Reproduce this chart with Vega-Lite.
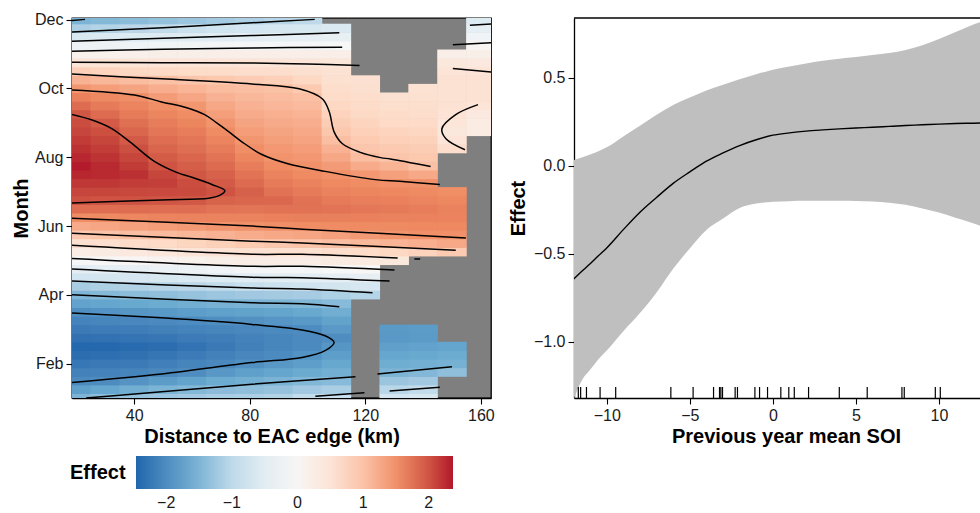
{
"$schema": "https://vega.github.io/schema/vega-lite/v6.json",
"padding": {"left": 10, "top": 11, "right": 0, "bottom": 0},
"bounds": "flush",
"spacing": 83,
"config": {
  "font": "Liberation Sans",
  "axis": {"grid": false, "domainColor": "black", "domainWidth": 1.3, "tickColor": "black", "tickWidth": 1.1, "tickSize": 6, "labelFontSize": 16, "labelColor": "#1a1a1a", "labelPadding": 3, "labelFlush": false, "titleFontSize": 20, "titleFontWeight": "bold", "titleColor": "black"}
},
"resolve": {"scale": {"color": "independent"}, "legend": {"color": "independent"}},
"datasets": {
"heat": [
{"d":20,"m":1,"e":-1.5},{"d":20,"m":1.25,"e":-1.77},{"d":20,"m":1.5,"e":-2.02},{"d":20,"m":1.75,"e":-2.13},{"d":20,"m":2,"e":-2.25},{"d":20,"m":2.25,"e":-2.37},{"d":20,"m":2.5,"e":-2.44},{"d":20,"m":2.75,"e":-2.32},{"d":20,"m":3,"e":-2.21},{"d":20,"m":3.25,"e":-2.1},{"d":20,"m":3.5,"e":-1.97},{"d":20,"m":3.75,"e":-1.73},{"d":20,"m":4,"e":-1.49},{"d":20,"m":4.25,"e":-1.18},{"d":20,"m":4.5,"e":-0.85},{"d":20,"m":4.75,"e":-0.48},{"d":20,"m":5,"e":-0.09},{"d":20,"m":5.25,"e":0.25},{"d":20,"m":5.5,"e":0.59},{"d":20,"m":5.75,"e":0.94},{"d":20,"m":6,"e":1.25},{"d":20,"m":6.25,"e":1.54},{"d":20,"m":6.5,"e":1.8},{"d":20,"m":6.75,"e":2.02},{"d":20,"m":7,"e":2.11},{"d":20,"m":7.25,"e":2.2},{"d":20,"m":7.5,"e":2.3},{"d":20,"m":7.75,"e":2.36},{"d":20,"m":8,"e":2.3},{"d":20,"m":8.25,"e":2.24},{"d":20,"m":8.5,"e":2.18},{"d":20,"m":8.75,"e":2.11},{"d":20,"m":9,"e":2.05},{"d":20,"m":9.25,"e":1.98},{"d":20,"m":9.5,"e":1.81},{"d":20,"m":9.75,"e":1.64},{"d":20,"m":10,"e":1.45},{"d":20,"m":10.25,"e":1.17},{"d":20,"m":10.5,"e":0.87},{"d":20,"m":10.75,"e":0.5},{"d":20,"m":11,"e":0.13},{"d":20,"m":11.25,"e":-0.29},{"d":20,"m":11.5,"e":-0.73},{"d":20,"m":11.75,"e":-1.15},{"d":20,"m":12,"e":-1.5},
{"d":30,"m":1,"e":-1.38},{"d":30,"m":1.25,"e":-1.68},{"d":30,"m":1.5,"e":-1.99},{"d":30,"m":1.75,"e":-2.11},{"d":30,"m":2,"e":-2.23},{"d":30,"m":2.25,"e":-2.35},{"d":30,"m":2.5,"e":-2.43},{"d":30,"m":2.75,"e":-2.31},{"d":30,"m":3,"e":-2.19},{"d":30,"m":3.25,"e":-2.08},{"d":30,"m":3.5,"e":-1.92},{"d":30,"m":3.75,"e":-1.69},{"d":30,"m":4,"e":-1.44},{"d":30,"m":4.25,"e":-1.13},{"d":30,"m":4.5,"e":-0.8},{"d":30,"m":4.75,"e":-0.44},{"d":30,"m":5,"e":-0.03},{"d":30,"m":5.25,"e":0.3},{"d":30,"m":5.5,"e":0.64},{"d":30,"m":5.75,"e":1.0},{"d":30,"m":6,"e":1.29},{"d":30,"m":6.25,"e":1.56},{"d":30,"m":6.5,"e":1.8},{"d":30,"m":6.75,"e":2.01},{"d":30,"m":7,"e":2.1},{"d":30,"m":7.25,"e":2.2},{"d":30,"m":7.5,"e":2.29},{"d":30,"m":7.75,"e":2.29},{"d":30,"m":8,"e":2.23},{"d":30,"m":8.25,"e":2.17},{"d":30,"m":8.5,"e":2.1},{"d":30,"m":8.75,"e":2.04},{"d":30,"m":9,"e":1.95},{"d":30,"m":9.25,"e":1.82},{"d":30,"m":9.5,"e":1.69},{"d":30,"m":9.75,"e":1.57},{"d":30,"m":10,"e":1.38},{"d":30,"m":10.25,"e":1.12},{"d":30,"m":10.5,"e":0.83},{"d":30,"m":10.75,"e":0.5},{"d":30,"m":11,"e":0.14},{"d":30,"m":11.25,"e":-0.25},{"d":30,"m":11.5,"e":-0.67},{"d":30,"m":11.75,"e":-1.09},{"d":30,"m":12,"e":-1.45},
{"d":40,"m":1,"e":-1.32},{"d":40,"m":1.25,"e":-1.59},{"d":40,"m":1.5,"e":-1.91},{"d":40,"m":1.75,"e":-2.09},{"d":40,"m":2,"e":-2.21},{"d":40,"m":2.25,"e":-2.32},{"d":40,"m":2.5,"e":-2.4},{"d":40,"m":2.75,"e":-2.28},{"d":40,"m":3,"e":-2.17},{"d":40,"m":3.25,"e":-2.05},{"d":40,"m":3.5,"e":-1.88},{"d":40,"m":3.75,"e":-1.65},{"d":40,"m":4,"e":-1.4},{"d":40,"m":4.25,"e":-1.1},{"d":40,"m":4.5,"e":-0.75},{"d":40,"m":4.75,"e":-0.38},{"d":40,"m":5,"e":0.01},{"d":40,"m":5.25,"e":0.36},{"d":40,"m":5.5,"e":0.71},{"d":40,"m":5.75,"e":1.05},{"d":40,"m":6,"e":1.34},{"d":40,"m":6.25,"e":1.59},{"d":40,"m":6.5,"e":1.81},{"d":40,"m":6.75,"e":2.01},{"d":40,"m":7,"e":2.09},{"d":40,"m":7.25,"e":2.17},{"d":40,"m":7.5,"e":2.25},{"d":40,"m":7.75,"e":2.18},{"d":40,"m":8,"e":2.1},{"d":40,"m":8.25,"e":2.03},{"d":40,"m":8.5,"e":1.95},{"d":40,"m":8.75,"e":1.86},{"d":40,"m":9,"e":1.78},{"d":40,"m":9.25,"e":1.69},{"d":40,"m":9.5,"e":1.61},{"d":40,"m":9.75,"e":1.52},{"d":40,"m":10,"e":1.31},{"d":40,"m":10.25,"e":1.07},{"d":40,"m":10.5,"e":0.79},{"d":40,"m":10.75,"e":0.5},{"d":40,"m":11,"e":0.16},{"d":40,"m":11.25,"e":-0.21},{"d":40,"m":11.5,"e":-0.62},{"d":40,"m":11.75,"e":-1.03},{"d":40,"m":12,"e":-1.4},
{"d":50,"m":1,"e":-1.27},{"d":50,"m":1.25,"e":-1.51},{"d":50,"m":1.5,"e":-1.81},{"d":50,"m":1.75,"e":-2.04},{"d":50,"m":2,"e":-2.15},{"d":50,"m":2.25,"e":-2.26},{"d":50,"m":2.5,"e":-2.37},{"d":50,"m":2.75,"e":-2.26},{"d":50,"m":3,"e":-2.14},{"d":50,"m":3.25,"e":-2.03},{"d":50,"m":3.5,"e":-1.84},{"d":50,"m":3.75,"e":-1.62},{"d":50,"m":4,"e":-1.36},{"d":50,"m":4.25,"e":-1.06},{"d":50,"m":4.5,"e":-0.7},{"d":50,"m":4.75,"e":-0.31},{"d":50,"m":5,"e":0.07},{"d":50,"m":5.25,"e":0.42},{"d":50,"m":5.5,"e":0.76},{"d":50,"m":5.75,"e":1.09},{"d":50,"m":6,"e":1.38},{"d":50,"m":6.25,"e":1.61},{"d":50,"m":6.5,"e":1.8},{"d":50,"m":6.75,"e":1.99},{"d":50,"m":7,"e":2.08},{"d":50,"m":7.25,"e":2.15},{"d":50,"m":7.5,"e":2.1},{"d":50,"m":7.75,"e":2.01},{"d":50,"m":8,"e":1.94},{"d":50,"m":8.25,"e":1.87},{"d":50,"m":8.5,"e":1.8},{"d":50,"m":8.75,"e":1.73},{"d":50,"m":9,"e":1.67},{"d":50,"m":9.25,"e":1.6},{"d":50,"m":9.5,"e":1.53},{"d":50,"m":9.75,"e":1.39},{"d":50,"m":10,"e":1.21},{"d":50,"m":10.25,"e":1.02},{"d":50,"m":10.5,"e":0.77},{"d":50,"m":10.75,"e":0.5},{"d":50,"m":11,"e":0.18},{"d":50,"m":11.25,"e":-0.17},{"d":50,"m":11.5,"e":-0.56},{"d":50,"m":11.75,"e":-0.97},{"d":50,"m":12,"e":-1.33},
{"d":60,"m":1,"e":-1.22},{"d":60,"m":1.25,"e":-1.45},{"d":60,"m":1.5,"e":-1.71},{"d":60,"m":1.75,"e":-1.98},{"d":60,"m":2,"e":-2.09},{"d":60,"m":2.25,"e":-2.2},{"d":60,"m":2.5,"e":-2.3},{"d":60,"m":2.75,"e":-2.2},{"d":60,"m":3,"e":-2.1},{"d":60,"m":3.25,"e":-2.0},{"d":60,"m":3.5,"e":-1.79},{"d":60,"m":3.75,"e":-1.58},{"d":60,"m":4,"e":-1.31},{"d":60,"m":4.25,"e":-1.02},{"d":60,"m":4.5,"e":-0.64},{"d":60,"m":4.75,"e":-0.25},{"d":60,"m":5,"e":0.13},{"d":60,"m":5.25,"e":0.47},{"d":60,"m":5.5,"e":0.81},{"d":60,"m":5.75,"e":1.13},{"d":60,"m":6,"e":1.42},{"d":60,"m":6.25,"e":1.62},{"d":60,"m":6.5,"e":1.8},{"d":60,"m":6.75,"e":1.97},{"d":60,"m":7,"e":2.07},{"d":60,"m":7.25,"e":2.05},{"d":60,"m":7.5,"e":1.98},{"d":60,"m":7.75,"e":1.92},{"d":60,"m":8,"e":1.85},{"d":60,"m":8.25,"e":1.79},{"d":60,"m":8.5,"e":1.73},{"d":60,"m":8.75,"e":1.67},{"d":60,"m":9,"e":1.6},{"d":60,"m":9.25,"e":1.54},{"d":60,"m":9.5,"e":1.45},{"d":60,"m":9.75,"e":1.29},{"d":60,"m":10,"e":1.14},{"d":60,"m":10.25,"e":0.98},{"d":60,"m":10.5,"e":0.74},{"d":60,"m":10.75,"e":0.5},{"d":60,"m":11,"e":0.19},{"d":60,"m":11.25,"e":-0.15},{"d":60,"m":11.5,"e":-0.53},{"d":60,"m":11.75,"e":-0.9},{"d":60,"m":12,"e":-1.27},
{"d":70,"m":1,"e":-1.17},{"d":70,"m":1.25,"e":-1.39},{"d":70,"m":1.5,"e":-1.62},{"d":70,"m":1.75,"e":-1.86},{"d":70,"m":2,"e":-2.04},{"d":70,"m":2.25,"e":-2.13},{"d":70,"m":2.5,"e":-2.22},{"d":70,"m":2.75,"e":-2.17},{"d":70,"m":3,"e":-2.08},{"d":70,"m":3.25,"e":-1.97},{"d":70,"m":3.5,"e":-1.75},{"d":70,"m":3.75,"e":-1.54},{"d":70,"m":4,"e":-1.27},{"d":70,"m":4.25,"e":-0.97},{"d":70,"m":4.5,"e":-0.59},{"d":70,"m":4.75,"e":-0.19},{"d":70,"m":5,"e":0.18},{"d":70,"m":5.25,"e":0.53},{"d":70,"m":5.5,"e":0.86},{"d":70,"m":5.75,"e":1.17},{"d":70,"m":6,"e":1.47},{"d":70,"m":6.25,"e":1.62},{"d":70,"m":6.5,"e":1.75},{"d":70,"m":6.75,"e":1.88},{"d":70,"m":7,"e":2.01},{"d":70,"m":7.25,"e":1.95},{"d":70,"m":7.5,"e":1.89},{"d":70,"m":7.75,"e":1.82},{"d":70,"m":8,"e":1.75},{"d":70,"m":8.25,"e":1.68},{"d":70,"m":8.5,"e":1.61},{"d":70,"m":8.75,"e":1.55},{"d":70,"m":9,"e":1.47},{"d":70,"m":9.25,"e":1.37},{"d":70,"m":9.5,"e":1.27},{"d":70,"m":9.75,"e":1.17},{"d":70,"m":10,"e":1.07},{"d":70,"m":10.25,"e":0.95},{"d":70,"m":10.5,"e":0.72},{"d":70,"m":10.75,"e":0.5},{"d":70,"m":11,"e":0.2},{"d":70,"m":11.25,"e":-0.12},{"d":70,"m":11.5,"e":-0.49},{"d":70,"m":11.75,"e":-0.84},{"d":70,"m":12,"e":-1.2},
{"d":80,"m":1,"e":-1.14},{"d":80,"m":1.25,"e":-1.36},{"d":80,"m":1.5,"e":-1.57},{"d":80,"m":1.75,"e":-1.76},{"d":80,"m":2,"e":-1.95},{"d":80,"m":2.25,"e":-2.06},{"d":80,"m":2.5,"e":-2.14},{"d":80,"m":2.75,"e":-2.12},{"d":80,"m":3,"e":-2.05},{"d":80,"m":3.25,"e":-1.93},{"d":80,"m":3.5,"e":-1.72},{"d":80,"m":3.75,"e":-1.52},{"d":80,"m":4,"e":-1.23},{"d":80,"m":4.25,"e":-0.92},{"d":80,"m":4.5,"e":-0.53},{"d":80,"m":4.75,"e":-0.14},{"d":80,"m":5,"e":0.23},{"d":80,"m":5.25,"e":0.58},{"d":80,"m":5.5,"e":0.92},{"d":80,"m":5.75,"e":1.22},{"d":80,"m":6,"e":1.5},{"d":80,"m":6.25,"e":1.62},{"d":80,"m":6.5,"e":1.74},{"d":80,"m":6.75,"e":1.86},{"d":80,"m":7,"e":1.9},{"d":80,"m":7.25,"e":1.82},{"d":80,"m":7.5,"e":1.75},{"d":80,"m":7.75,"e":1.67},{"d":80,"m":8,"e":1.59},{"d":80,"m":8.25,"e":1.52},{"d":80,"m":8.5,"e":1.45},{"d":80,"m":8.75,"e":1.38},{"d":80,"m":9,"e":1.31},{"d":80,"m":9.25,"e":1.24},{"d":80,"m":9.5,"e":1.17},{"d":80,"m":9.75,"e":1.11},{"d":80,"m":10,"e":1.04},{"d":80,"m":10.25,"e":0.91},{"d":80,"m":10.5,"e":0.7},{"d":80,"m":10.75,"e":0.5},{"d":80,"m":11,"e":0.21},{"d":80,"m":11.25,"e":-0.1},{"d":80,"m":11.5,"e":-0.44},{"d":80,"m":11.75,"e":-0.79},{"d":80,"m":12,"e":-1.13},
{"d":90,"m":1,"e":-1.1},{"d":90,"m":1.25,"e":-1.31},{"d":90,"m":1.5,"e":-1.52},{"d":90,"m":1.75,"e":-1.69},{"d":90,"m":2,"e":-1.86},{"d":90,"m":2.25,"e":-2.01},{"d":90,"m":2.5,"e":-2.07},{"d":90,"m":2.75,"e":-2.08},{"d":90,"m":3,"e":-2.02},{"d":90,"m":3.25,"e":-1.89},{"d":90,"m":3.5,"e":-1.7},{"d":90,"m":3.75,"e":-1.5},{"d":90,"m":4,"e":-1.21},{"d":90,"m":4.25,"e":-0.89},{"d":90,"m":4.5,"e":-0.52},{"d":90,"m":4.75,"e":-0.14},{"d":90,"m":5,"e":0.24},{"d":90,"m":5.25,"e":0.6},{"d":90,"m":5.5,"e":0.96},{"d":90,"m":5.75,"e":1.26},{"d":90,"m":6,"e":1.52},{"d":90,"m":6.25,"e":1.64},{"d":90,"m":6.5,"e":1.76},{"d":90,"m":6.75,"e":1.84},{"d":90,"m":7,"e":1.76},{"d":90,"m":7.25,"e":1.69},{"d":90,"m":7.5,"e":1.62},{"d":90,"m":7.75,"e":1.55},{"d":90,"m":8,"e":1.48},{"d":90,"m":8.25,"e":1.43},{"d":90,"m":8.5,"e":1.37},{"d":90,"m":8.75,"e":1.31},{"d":90,"m":9,"e":1.25},{"d":90,"m":9.25,"e":1.19},{"d":90,"m":9.5,"e":1.13},{"d":90,"m":9.75,"e":1.08},{"d":90,"m":10,"e":1.02},{"d":90,"m":10.25,"e":0.87},{"d":90,"m":10.5,"e":0.67},{"d":90,"m":10.75,"e":0.47},{"d":90,"m":11,"e":0.2},{"d":90,"m":11.25,"e":-0.08},{"d":90,"m":11.5,"e":-0.41},{"d":90,"m":11.75,"e":-0.74},{"d":90,"m":12,"e":-1.06},
{"d":100,"m":1,"e":-0.97},{"d":100,"m":1.25,"e":-1.22},{"d":100,"m":1.5,"e":-1.47},{"d":100,"m":1.75,"e":-1.63},{"d":100,"m":2,"e":-1.78},{"d":100,"m":2.25,"e":-1.92},{"d":100,"m":2.5,"e":-2.02},{"d":100,"m":2.75,"e":-2.03},{"d":100,"m":3,"e":-2.0},{"d":100,"m":3.25,"e":-1.84},{"d":100,"m":3.5,"e":-1.66},{"d":100,"m":3.75,"e":-1.48},{"d":100,"m":4,"e":-1.19},{"d":100,"m":4.25,"e":-0.86},{"d":100,"m":4.5,"e":-0.49},{"d":100,"m":4.75,"e":-0.12},{"d":100,"m":5,"e":0.24},{"d":100,"m":5.25,"e":0.61},{"d":100,"m":5.5,"e":1.0},{"d":100,"m":5.75,"e":1.3},{"d":100,"m":6,"e":1.54},{"d":100,"m":6.25,"e":1.65},{"d":100,"m":6.5,"e":1.76},{"d":100,"m":6.75,"e":1.76},{"d":100,"m":7,"e":1.69},{"d":100,"m":7.25,"e":1.63},{"d":100,"m":7.5,"e":1.56},{"d":100,"m":7.75,"e":1.5},{"d":100,"m":8,"e":1.44},{"d":100,"m":8.25,"e":1.38},{"d":100,"m":8.5,"e":1.32},{"d":100,"m":8.75,"e":1.26},{"d":100,"m":9,"e":1.21},{"d":100,"m":9.25,"e":1.15},{"d":100,"m":9.5,"e":1.09},{"d":100,"m":9.75,"e":1.03},{"d":100,"m":10,"e":0.93},{"d":100,"m":10.25,"e":0.78},{"d":100,"m":10.5,"e":0.63},{"d":100,"m":10.75,"e":0.46},{"d":100,"m":11,"e":0.2},{"d":100,"m":11.25,"e":-0.08},{"d":100,"m":11.5,"e":-0.39},{"d":100,"m":11.75,"e":-0.7},{"d":100,"m":12,"e":-1.0},
{"d":110,"m":1,"e":-0.91},{"d":110,"m":1.25,"e":-1.16},{"d":110,"m":1.5,"e":-1.42},{"d":110,"m":1.75,"e":-1.57},{"d":110,"m":2,"e":-1.67},{"d":110,"m":2.25,"e":-1.78},{"d":110,"m":2.5,"e":-1.88},{"d":110,"m":2.75,"e":-1.98},{"d":110,"m":3,"e":-1.85},{"d":110,"m":3.25,"e":-1.72},{"d":110,"m":3.5,"e":-1.59},{"d":110,"m":3.75,"e":-1.42},{"d":110,"m":4,"e":-1.13},{"d":110,"m":4.25,"e":-0.8},{"d":110,"m":4.5,"e":-0.44},{"d":110,"m":4.75,"e":-0.06},{"d":110,"m":5,"e":0.3},{"d":110,"m":5.25,"e":0.67},{"d":110,"m":5.5,"e":1.05},{"d":110,"m":5.75,"e":1.35},{"d":110,"m":6,"e":1.55},{"d":110,"m":6.25,"e":1.65},{"d":110,"m":6.5,"e":1.75},{"d":110,"m":6.75,"e":1.69},{"d":110,"m":7,"e":1.63},{"d":110,"m":7.25,"e":1.57},{"d":110,"m":7.5,"e":1.51},{"d":110,"m":7.75,"e":1.4},{"d":110,"m":8,"e":1.28},{"d":110,"m":8.25,"e":1.17},{"d":110,"m":8.5,"e":1.05},{"d":110,"m":8.75,"e":0.96},{"d":110,"m":9,"e":0.9},{"d":110,"m":9.25,"e":0.84},{"d":110,"m":9.5,"e":0.78},{"d":110,"m":9.75,"e":0.72},{"d":110,"m":10,"e":0.67},{"d":110,"m":10.25,"e":0.61},{"d":110,"m":10.5,"e":0.55},{"d":110,"m":10.75,"e":0.44},{"d":110,"m":11,"e":0.2},{"d":110,"m":11.25,"e":-0.06},{"d":110,"m":11.5,"e":-0.36},{"d":110,"m":11.75,"e":-0.65},
{"d":120,"m":4,"e":-1.08},{"d":120,"m":4.25,"e":-0.75},{"d":120,"m":4.5,"e":-0.39},{"d":120,"m":4.75,"e":-0.02},{"d":120,"m":5,"e":0.34},{"d":120,"m":5.25,"e":0.73},{"d":120,"m":5.5,"e":1.1},{"d":120,"m":5.75,"e":1.42},{"d":120,"m":6,"e":1.56},{"d":120,"m":6.25,"e":1.64},{"d":120,"m":6.5,"e":1.72},{"d":120,"m":6.75,"e":1.66},{"d":120,"m":7,"e":1.6},{"d":120,"m":7.25,"e":1.54},{"d":120,"m":7.5,"e":1.43},{"d":120,"m":7.75,"e":1.24},{"d":120,"m":8,"e":1.06},{"d":120,"m":8.25,"e":0.97},{"d":120,"m":8.5,"e":0.92},{"d":120,"m":8.75,"e":0.87},{"d":120,"m":9,"e":0.82},{"d":120,"m":9.25,"e":0.77},{"d":120,"m":9.5,"e":0.73},{"d":120,"m":9.75,"e":0.68},{"d":120,"m":10,"e":0.63},{"d":120,"m":10.25,"e":0.58},
{"d":130,"m":1,"e":-0.79},{"d":130,"m":1.25,"e":-1.04},{"d":130,"m":1.5,"e":-1.28},{"d":130,"m":1.75,"e":-1.51},{"d":130,"m":2,"e":-1.6},{"d":130,"m":2.25,"e":-1.68},{"d":130,"m":2.5,"e":-1.77},{"d":130,"m":2.75,"e":-1.85},{"d":130,"m":3,"e":-1.83},
{"d":130,"m":5,"e":0.4},{"d":130,"m":5.25,"e":0.79},{"d":130,"m":5.5,"e":1.15},{"d":130,"m":5.75,"e":1.47},{"d":130,"m":6,"e":1.56},{"d":130,"m":6.25,"e":1.63},{"d":130,"m":6.5,"e":1.7},{"d":130,"m":6.75,"e":1.64},{"d":130,"m":7,"e":1.58},{"d":130,"m":7.25,"e":1.51},{"d":130,"m":7.5,"e":1.35},{"d":130,"m":7.75,"e":1.15},{"d":130,"m":8,"e":0.98},{"d":130,"m":8.25,"e":0.93},{"d":130,"m":8.5,"e":0.87},{"d":130,"m":8.75,"e":0.82},{"d":130,"m":9,"e":0.76},{"d":130,"m":9.25,"e":0.71},{"d":130,"m":9.5,"e":0.65},{"d":130,"m":9.75,"e":0.6},
{"d":140,"m":1,"e":-0.73},{"d":140,"m":1.25,"e":-0.97},{"d":140,"m":1.5,"e":-1.22},{"d":140,"m":1.75,"e":-1.46},{"d":140,"m":2,"e":-1.57},{"d":140,"m":2.25,"e":-1.65},{"d":140,"m":2.5,"e":-1.73},{"d":140,"m":2.75,"e":-1.82},{"d":140,"m":3,"e":-1.8},
{"d":140,"m":5.25,"e":0.84},{"d":140,"m":5.5,"e":1.2},{"d":140,"m":5.75,"e":1.51},{"d":140,"m":6,"e":1.57},{"d":140,"m":6.25,"e":1.63},{"d":140,"m":6.5,"e":1.67},{"d":140,"m":6.75,"e":1.61},{"d":140,"m":7,"e":1.56},{"d":140,"m":7.25,"e":1.5},{"d":140,"m":7.5,"e":1.26},{"d":140,"m":7.75,"e":1.02},{"d":140,"m":8,"e":0.95},{"d":140,"m":8.25,"e":0.9},{"d":140,"m":8.5,"e":0.85},{"d":140,"m":8.75,"e":0.8},{"d":140,"m":9,"e":0.75},{"d":140,"m":9.25,"e":0.7},{"d":140,"m":9.5,"e":0.65},{"d":140,"m":9.75,"e":0.6},{"d":140,"m":10,"e":0.55},
{"d":150,"m":1.75,"e":-1.36},{"d":150,"m":2,"e":-1.55},{"d":150,"m":2.25,"e":-1.62},{"d":150,"m":2.5,"e":-1.7},
{"d":150,"m":5.25,"e":0.92},{"d":150,"m":5.5,"e":1.26},{"d":150,"m":5.75,"e":1.51},{"d":150,"m":6,"e":1.57},{"d":150,"m":6.25,"e":1.62},{"d":150,"m":6.5,"e":1.63},{"d":150,"m":6.75,"e":1.58},{"d":150,"m":7,"e":1.53},
{"d":150,"m":8.25,"e":0.7},{"d":150,"m":8.5,"e":0.48},{"d":150,"m":8.75,"e":0.4},{"d":150,"m":9,"e":0.45},{"d":150,"m":9.25,"e":0.52},{"d":150,"m":9.5,"e":0.55},{"d":150,"m":9.75,"e":0.57},{"d":150,"m":10,"e":0.57},{"d":150,"m":10.25,"e":0.55},{"d":150,"m":10.5,"e":0.51},{"d":150,"m":10.75,"e":0.38},{"d":150,"m":11,"e":0.2},
{"d":160,"m":8.75,"e":0.28},{"d":160,"m":9,"e":0.28},{"d":160,"m":9.25,"e":0.35},{"d":160,"m":9.5,"e":0.5},{"d":160,"m":9.75,"e":0.55},{"d":160,"m":10,"e":0.56},{"d":160,"m":10.25,"e":0.55},{"d":160,"m":10.5,"e":0.5},{"d":160,"m":10.75,"e":0.35},{"d":160,"m":11,"e":0.19},{"d":160,"m":11.25,"e":0.04},{"d":160,"m":11.5,"e":-0.17},{"d":160,"m":11.75,"e":-0.4},{"d":160,"m":12,"e":-0.6}
],
"ct": [
{"id":"L1","o":1,"d":18.2,"m":11.975},{"id":"L1","o":2,"d":23,"m":12.01},
{"id":"L2","o":1,"d":18.2,"m":11.64},{"id":"L2","o":2,"d":50,"m":11.77},{"id":"L2","o":3,"d":80.8,"m":11.91},{"id":"L2","o":4,"d":102.5,"m":12.01},
{"id":"L3","o":1,"d":18.2,"m":11.37},{"id":"L3","o":2,"d":50,"m":11.46},{"id":"L3","o":3,"d":80.8,"m":11.54},{"id":"L3","o":4,"d":111,"m":11.62},
{"id":"L4","o":1,"d":18.2,"m":11.08},{"id":"L4","o":2,"d":50,"m":11.14},{"id":"L4","o":3,"d":80.8,"m":11.18},{"id":"L4","o":4,"d":112,"m":11.2},
{"id":"L5","o":1,"d":18.2,"m":10.76},{"id":"L5","o":2,"d":50,"m":10.75},{"id":"L5","o":3,"d":80.8,"m":10.74},{"id":"L5","o":4,"d":100,"m":10.71},{"id":"L5","o":5,"d":118,"m":10.67},
{"id":"L6","o":1,"d":18.2,"m":10.42},{"id":"L6","o":2,"d":49.5,"m":10.28},{"id":"L6","o":3,"d":80.8,"m":10.13},{"id":"L6","o":4,"d":97.1,"m":9.99},{"id":"L6","o":5,"d":105.1,"m":9.7},{"id":"L6","o":6,"d":107.5,"m":9.33},{"id":"L6","o":7,"d":109.2,"m":8.74},{"id":"L6","o":8,"d":112,"m":8.4},{"id":"L6","o":9,"d":118,"m":8.15},{"id":"L6","o":10,"d":125.3,"m":7.99},{"id":"L6","o":11,"d":128.7,"m":7.95},{"id":"L6","o":12,"d":142.6,"m":7.73},
{"id":"L7","o":1,"d":18.2,"m":9.96},{"id":"L7","o":2,"d":40.1,"m":9.81},{"id":"L7","o":3,"d":49.5,"m":9.61},{"id":"L7","o":4,"d":58.2,"m":9.44},{"id":"L7","o":5,"d":64.4,"m":9.24},{"id":"L7","o":6,"d":68.6,"m":9.0},{"id":"L7","o":7,"d":72.8,"m":8.74},{"id":"L7","o":8,"d":77.3,"m":8.45},{"id":"L7","o":9,"d":84.2,"m":8.08},{"id":"L7","o":10,"d":92.9,"m":7.82},{"id":"L7","o":11,"d":106.1,"m":7.59},{"id":"L7","o":12,"d":123.5,"m":7.35},{"id":"L7","o":13,"d":131.9,"m":7.3},{"id":"L7","o":14,"d":145.8,"m":7.21},
{"id":"L8","o":1,"d":18.2,"m":9.25},{"id":"L8","o":2,"d":25.2,"m":9.09},{"id":"L8","o":3,"d":32.1,"m":8.84},{"id":"L8","o":4,"d":39.1,"m":8.41},{"id":"L8","o":5,"d":47,"m":7.88},{"id":"L8","o":6,"d":54.7,"m":7.56},{"id":"L8","o":7,"d":61,"m":7.39},{"id":"L8","o":8,"d":66.9,"m":7.21},{"id":"L8","o":9,"d":71.4,"m":7.03},{"id":"L8","o":10,"d":69.6,"m":6.89},{"id":"L8","o":11,"d":65.8,"m":6.81},{"id":"L8","o":12,"d":49.5,"m":6.76},{"id":"L8","o":13,"d":18.2,"m":6.67},
{"id":"L9","o":1,"d":18.2,"m":6.23},{"id":"L9","o":2,"d":80.8,"m":6.0},{"id":"L9","o":3,"d":98.2,"m":5.91},{"id":"L9","o":4,"d":154.8,"m":5.65},
{"id":"L10","o":1,"d":18.2,"m":5.79},{"id":"L10","o":2,"d":80.8,"m":5.56},{"id":"L10","o":3,"d":98.2,"m":5.51},{"id":"L10","o":4,"d":151.3,"m":5.3},
{"id":"L11","o":1,"d":18.2,"m":5.44},{"id":"L11","o":2,"d":80.8,"m":5.18},{"id":"L11","o":3,"d":98.2,"m":5.18},{"id":"L11","o":4,"d":131.2,"m":5.07},
{"id":"L11b","o":1,"d":137,"m":5.045},{"id":"L11b","o":2,"d":139,"m":5.04},
{"id":"L12","o":1,"d":18.2,"m":5.06},{"id":"L12","o":2,"d":80.8,"m":4.83},{"id":"L12","o":3,"d":98.2,"m":4.83},{"id":"L12","o":4,"d":130.1,"m":4.72},
{"id":"L13","o":1,"d":18.2,"m":4.75},{"id":"L13","o":2,"d":80.8,"m":4.51},{"id":"L13","o":3,"d":98.2,"m":4.5},{"id":"L13","o":4,"d":128.4,"m":4.4},
{"id":"L14","o":1,"d":18.2,"m":4.4},{"id":"L14","o":2,"d":80.8,"m":4.2},{"id":"L14","o":3,"d":98.2,"m":4.17},{"id":"L14","o":4,"d":122.5,"m":4.06},
{"id":"L15","o":1,"d":18.2,"m":4.0},{"id":"L15","o":2,"d":80.8,"m":3.77},{"id":"L15","o":3,"d":98.2,"m":3.74},{"id":"L15","o":4,"d":111,"m":3.65},
{"id":"L16","o":1,"d":18.2,"m":3.47},{"id":"L16","o":2,"d":49.5,"m":3.33},{"id":"L16","o":3,"d":80.8,"m":3.14},{"id":"L16","o":4,"d":98.1,"m":2.98},{"id":"L16","o":5,"d":106.1,"m":2.81},{"id":"L16","o":6,"d":109.2,"m":2.62},{"id":"L16","o":7,"d":106.1,"m":2.38},{"id":"L16","o":8,"d":98.1,"m":2.18},{"id":"L16","o":9,"d":80.8,"m":2.03},{"id":"L16","o":10,"d":49.5,"m":1.7},{"id":"L16","o":11,"d":18.2,"m":1.45},
{"id":"L17","o":1,"d":23.4,"m":1.0},{"id":"L17","o":2,"d":49.5,"m":1.18},{"id":"L17","o":3,"d":80.8,"m":1.4},{"id":"L17","o":4,"d":116.6,"m":1.62},
{"id":"L17b","o":1,"d":124.2,"m":1.7},{"id":"L17b","o":2,"d":150,"m":1.91},
{"id":"L18a","o":1,"d":102.7,"m":1.05},{"id":"L18a","o":2,"d":119.7,"m":1.15},
{"id":"L18b","o":1,"d":128.4,"m":1.2},{"id":"L18b","o":2,"d":145.8,"m":1.31},
{"id":"R1","o":1,"d":156.2,"m":11.84},{"id":"R1","o":2,"d":163.8,"m":11.88},
{"id":"R2","o":1,"d":150.3,"m":11.27},{"id":"R2","o":2,"d":163.8,"m":11.33},
{"id":"R3","o":1,"d":150.3,"m":10.58},{"id":"R3","o":2,"d":163.8,"m":10.48},
{"id":"A1","o":1,"d":159,"m":9.53},{"id":"A1","o":2,"d":151.3,"m":9.24},{"id":"A1","o":3,"d":146.5,"m":8.83},{"id":"A1","o":4,"d":147.9,"m":8.54},{"id":"A1","o":5,"d":154.5,"m":8.22}
],
"gam": [
{"s":-12,"f":-0.644,"lo":-1.33,"hi":0.032},{"s":-11.5,"f":-0.6,"lo":-1.22,"hi":0.047},{"s":-11,"f":-0.557,"lo":-1.16,"hi":0.064},{"s":-10.5,"f":-0.511,"lo":-1.1,"hi":0.083},{"s":-10,"f":-0.467,"lo":-1.05,"hi":0.105},{"s":-9,"f":-0.363,"lo":-0.94,"hi":0.167},{"s":-8,"f":-0.264,"lo":-0.837,"hi":0.228},{"s":-7,"f":-0.18,"lo":-0.72,"hi":0.29},{"s":-6,"f":-0.1,"lo":-0.585,"hi":0.345},{"s":-5,"f":-0.035,"lo":-0.47,"hi":0.388},{"s":-4,"f":0.026,"lo":-0.365,"hi":0.428},{"s":-3,"f":0.073,"lo":-0.3,"hi":0.46},{"s":-2,"f":0.115,"lo":-0.24,"hi":0.492},{"s":-1,"f":0.148,"lo":-0.215,"hi":0.52},{"s":0,"f":0.174,"lo":-0.205,"hi":0.546},{"s":1,"f":0.187,"lo":-0.201,"hi":0.565},{"s":2,"f":0.197,"lo":-0.199,"hi":0.582},{"s":3,"f":0.204,"lo":-0.199,"hi":0.597},{"s":4,"f":0.21,"lo":-0.199,"hi":0.609},{"s":5,"f":0.215,"lo":-0.2,"hi":0.619},{"s":6,"f":0.219,"lo":-0.203,"hi":0.63},{"s":7,"f":0.224,"lo":-0.21,"hi":0.641},{"s":8,"f":0.229,"lo":-0.222,"hi":0.658},{"s":9,"f":0.233,"lo":-0.243,"hi":0.685},{"s":10,"f":0.237,"lo":-0.266,"hi":0.72},{"s":11,"f":0.24,"lo":-0.295,"hi":0.76},{"s":12,"f":0.242,"lo":-0.325,"hi":0.8},{"s":12.6,"f":0.243,"lo":-0.345,"hi":0.82}
],
"rug": [
{"r":-11.71},{"r":-11.57},{"r":-11.22},{"r":-10.4},{"r":-9.46},{"r":-6.14},{"r":-4.8},{"r":-3.57},{"r":-3.21},{"r":-3.13},{"r":-3.03},{"r":-2.27},{"r":-2.13},{"r":-1.08},{"r":-0.8},{"r":-0.32},{"r":0.48},{"r":0.96},{"r":1.29},{"r":2.15},{"r":4.0},{"r":5.68},{"r":7.77},{"r":7.91},{"r":9.78},{"r":10.08}
]
},
"hconcat": [
{
  "width": 419, "height": 380,
  "view": {"stroke": "black", "strokeWidth": 1.3, "fill": "#7f7f7f"},
  "layer": [
    {"data": {"name": "heat"},
     "mark": {"type": "rect", "width": 29.5, "height": 9.2, "clip": true},
     "encoding": {
       "x": {"field": "d", "type": "quantitative", "scale": {"domain": [18.5, 163.5], "nice": false, "zero": false},
             "axis": {"values": [40, 80, 120, 160], "titleX": 199.5, "titleY": 38, "titleBaseline": "middle"}, "title": "Distance to EAC edge (km)"},
       "y": {"field": "m", "type": "quantitative", "scale": {"domain": [1, 12.05], "nice": false, "zero": false},
             "axis": {"values": [2, 4, 6, 8, 10, 12], "labelExpr": "['','Jan','Feb','Mar','Apr','May','Jun','Jul','Aug','Sep','Oct','Nov','Dec'][datum.value]", "titleX": -51, "titleY": 190, "titleBaseline": "middle"}, "title": "Month"},
       "color": {"field": "e", "type": "quantitative",
             "scale": {"domain": [-2.46, -1.655, -0.85, -0.045, 0.76, 1.565, 2.37], "range": ["#2166ac", "#67a9cf", "#d1e5f0", "#f7f7f7", "#fddbc7", "#ef8a62", "#b2182b"], "interpolate": "lab"},
             "title": "Effect",
             "legend": {"orient": "none", "legendX": -2, "legendY": 438, "direction": "horizontal", "gradientLength": 317, "gradientThickness": 33, "gradientStrokeWidth": 0, "titleOrient": "left", "titlePadding": 10, "titleFontSize": 20, "titleFontWeight": "bold", "titleColor": "black", "titleBaseline": "middle", "labelFontSize": 16, "labelColor": "#1a1a1a", "labelOffset": 6, "values": [-2, -1, 0, 1, 2]}}
     }},
    {"data": {"name": "ct"},
     "mark": {"type": "line", "clip": true, "color": "black", "strokeWidth": 1.5, "interpolate": "catmull-rom"},
     "encoding": {
       "x": {"field": "d", "type": "quantitative", "title": "Distance to EAC edge (km)"},
       "y": {"field": "m", "type": "quantitative", "title": "Month"},
       "detail": {"field": "id"},
       "order": {"field": "o"}
     }}
  ]
},
{
  "width": 407, "height": 380,
  "view": {"stroke": null},
  "layer": [
    {"data": {"name": "gam"},
     "mark": {"type": "area", "color": "#bfbfbf", "interpolate": "monotone", "clip": true},
     "encoding": {
       "x": {"field": "s", "type": "quantitative", "scale": {"domain": [-11.97, 12.53], "nice": false, "zero": false},
             "axis": {"values": [-10, -5, 0, 5, 10], "titleX": 212, "titleY": 38, "titleBaseline": "middle"}, "title": "Previous year mean SOI"},
       "y": {"field": "lo", "type": "quantitative", "scale": {"domain": [-1.32, 0.84], "nice": false, "zero": false},
             "axis": {"values": [-1, -0.5, 0, 0.5], "format": ".1f", "titleX": -56, "titleY": 190, "titleBaseline": "middle"}, "title": "Effect"},
       "y2": {"field": "hi"}
     }},
    {"data": {"name": "gam"},
     "mark": {"type": "line", "color": "black", "strokeWidth": 1.4, "interpolate": "monotone", "clip": true},
     "encoding": {
       "x": {"field": "s", "type": "quantitative", "title": "Previous year mean SOI"},
       "y": {"field": "f", "type": "quantitative", "title": "Effect"}
     }},
    {"data": {"name": "rug"},
     "mark": {"type": "rule", "color": "black", "strokeWidth": 1.2},
     "encoding": {
       "x": {"field": "r", "type": "quantitative", "title": "Previous year mean SOI"},
       "y": {"datum": -1.32},
       "y2": {"datum": -1.2575}
     }},
    {"data": {"values": [{}]},
     "mark": {"type": "rule", "color": "black", "strokeWidth": 1.6},
     "encoding": {"y": {"datum": 0.84}}}
  ]
}
]
}
